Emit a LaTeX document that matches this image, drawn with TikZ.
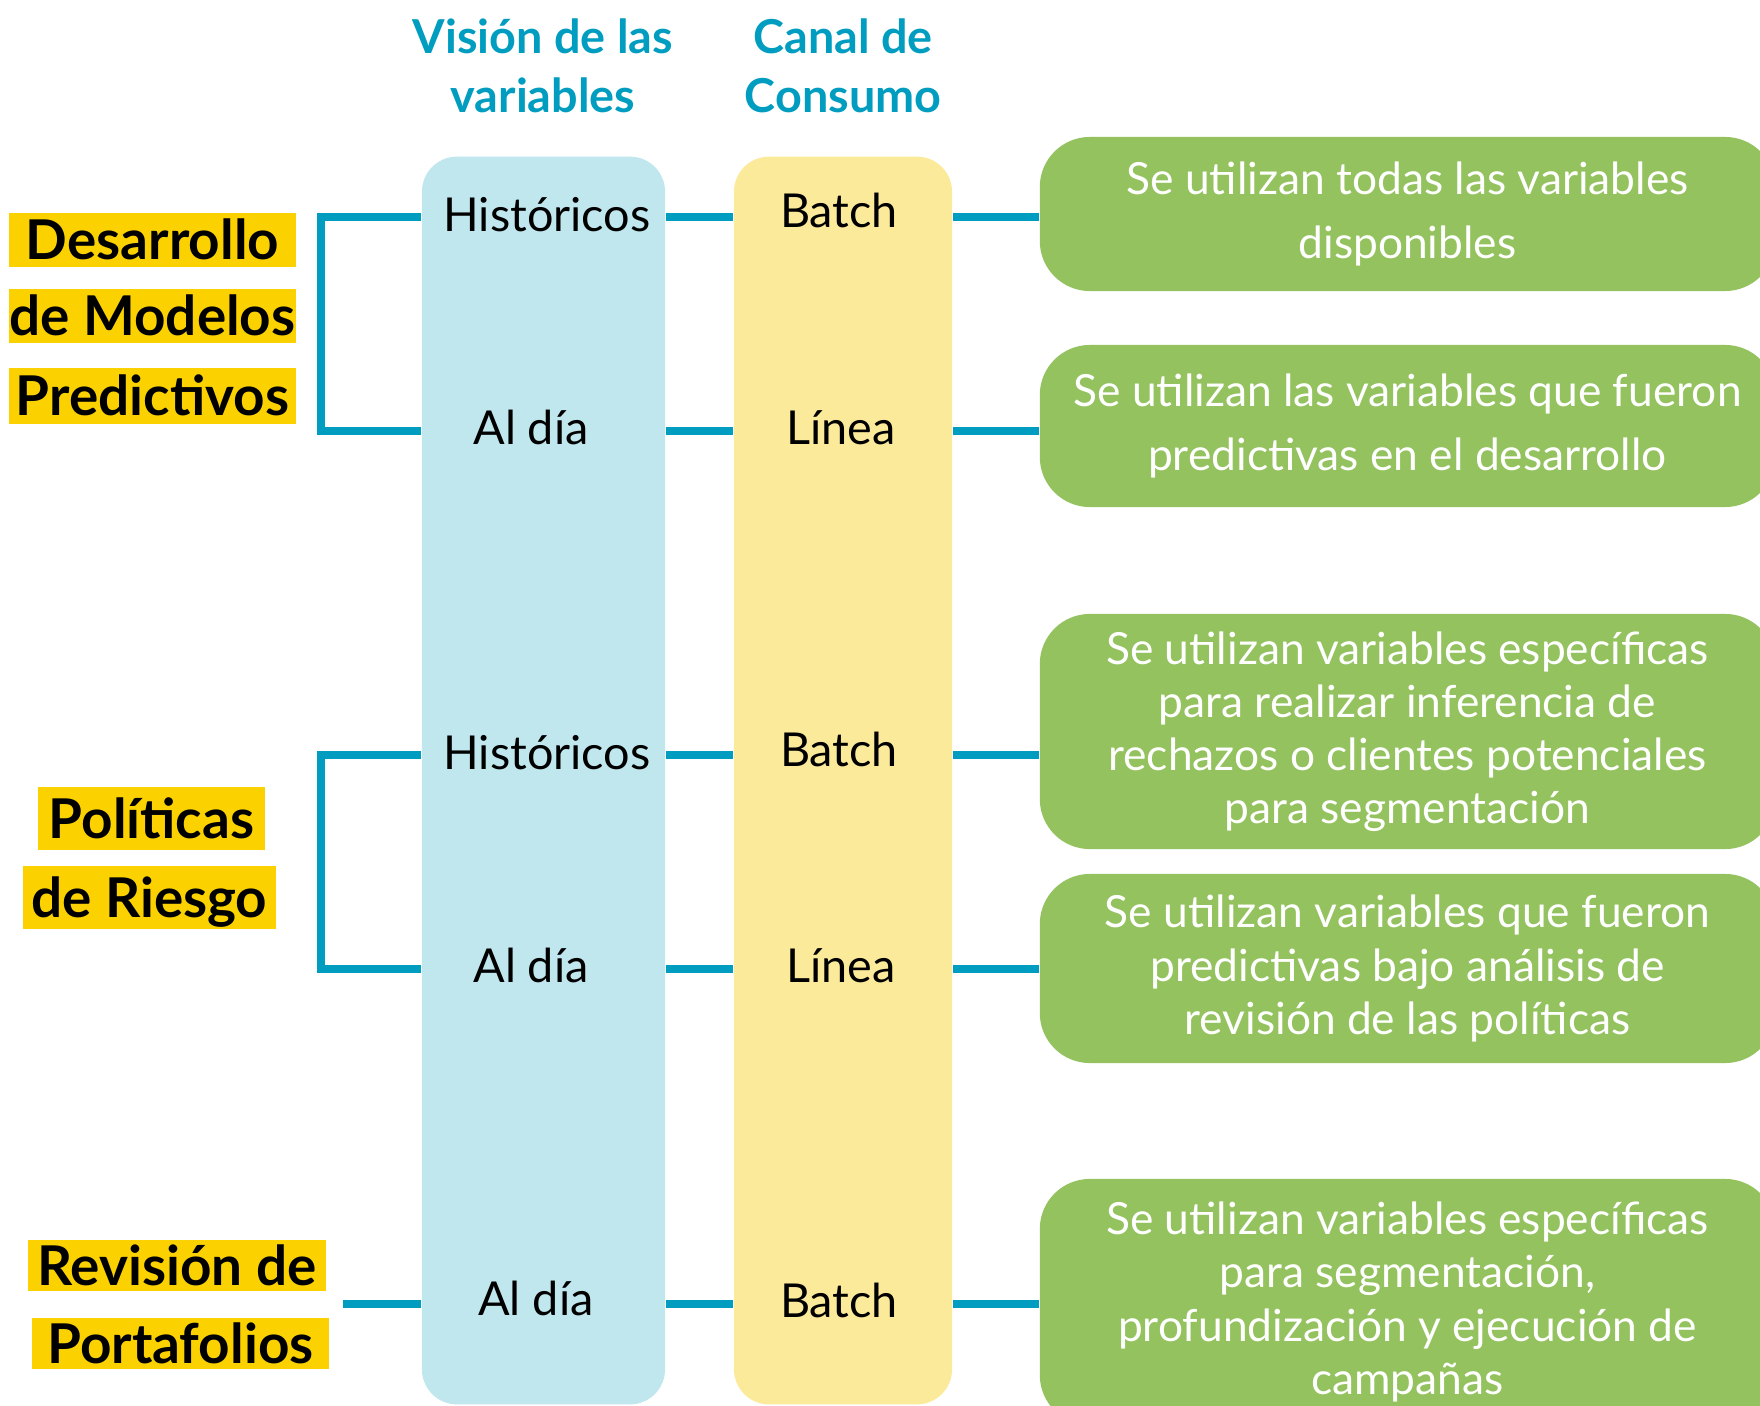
\documentclass[tikz,border=0pt]{standalone}
\usepackage{fontspec}
\setmainfont{Lato}
\definecolor{azul}{HTML}{009DC0}
\definecolor{celeste}{HTML}{C0E6EE}
\definecolor{crema}{HTML}{FCEA9B}
\definecolor{verde}{HTML}{93C25E}
\definecolor{resalte}{HTML}{FBD200}
\tikzset{
  conn/.style={azul, line width=2.2pt},
  col/.style={rounded corners=0.35cm, minimum height=12.47cm},
  etiq/.style={fill=resalte, inner sep=0pt, text height=11.2pt, text depth=0pt,
    font=\fontsize{15.6}{18}\selectfont\bfseries},
  fila/.style={inner sep=0pt, text height=9.5pt, text depth=0pt,
    font=\fontsize{13.3}{15}\selectfont},
  caja/.style={fill=verde, rounded corners=0.5cm, minimum width=7.35cm, text=white,
    align=center, font=\fontsize{12.6}{15.1}\selectfont},
  titulo/.style={azul, align=center, font=\fontsize{13.3}{16.5}\selectfont\bfseries}
}
\begin{document}
\begin{tikzpicture}[x=0.01cm, y=-0.01cm]
\useasboundingbox (0,0) rectangle (1760,1406);
\node[col, fill=celeste, minimum width=2.43cm] (vcol) at (543.5,780.5) {};
\node[col, fill=crema, minimum width=2.18cm] (ccol) at (843,780.5) {};
\node[titulo, anchor=base] (tv) at (543,112) {Visión de las\\variables};
\node[titulo, anchor=base] (tc) at (843,112) {Canal de\\Consumo};
\foreach \r/\y in {1/217,2/431,3/755,4/969,5/1304}
  \coordinate (r\r) at (0,\y);
\foreach \n/\x/\y/\t in {h1/547/215/Históricos, a2/531/428/Al día, h3/547/753/Históricos,
    a4/531/966/Al día, a5/536/1299/Al día}
  \node[fila] (\n) at (\x,\y) {\t};
\foreach \n/\x/\y/\t in {b1/839/211/Batch, l2/841/428/Línea, b3/839/750/Batch,
    l4/841/966/Línea, b5/839/1301/Batch}
  \node[fila] (\n) at (\x,\y) {\t};
\foreach \n/\x/\y/\w/\h/\t in {e1/152.5/240/2.87/0.54/Desarrollo, e2/152.5/316/2.87/0.54/de Modelos,
    e3/152.5/396/2.87/0.56/Predictivos, e4/151.5/818.5/2.27/0.63/Políticas,
    e5/149.5/897.5/2.53/0.63/de Riesgo, e6/177/1265.5/2.98/0.51/Revisión de,
    e7/180.5/1343.5/2.97/0.51/Portafolios}
  \node[etiq, minimum width=\w cm, minimum height=\h cm] (\n) at (\x,\y) {\t};
\node[caja, minimum height=1.54cm, font=\fontsize{12.6}{18.2}\selectfont] (g1) at (1407.5,214)
  {Se utilizan todas las variables\\disponibles};
\node[caja, minimum height=1.62cm, font=\fontsize{12.6}{18.2}\selectfont] (g2) at (1407.5,426)
  {Se utilizan las variables que fueron\\predictivas en el desarrollo};
\node[caja, minimum height=2.35cm] (g3) at (1407.5,731.5)
  {Se utilizan variables específicas\\para realizar inferencia de\\rechazos o clientes potenciales\\para segmentación};
\node[caja, minimum height=1.89cm] (g4) at (1407.5,968.5)
  {Se utilizan variables que fueron\\predictivas bajo análisis de\\revisión de las políticas};
\node[caja, minimum height=2.46cm] (g5) at (1407.5,1302)
  {Se utilizan variables específicas\\para segmentación,\\profundización y ejecución de\\campañas};
\foreach \r in {1,...,5} {
  \draw[conn] (vcol.east |- r\r) -- (ccol.west |- r\r);
  \draw[conn] (ccol.east |- r\r) -- (g\r.west |- r\r);
}
\draw[conn] (vcol.west |- r1) -- ++(-100,0) |- (vcol.west |- r2);
\draw[conn] (vcol.west |- r3) -- ++(-100,0) |- (vcol.west |- r4);
\draw[conn] (vcol.west |- r5) -- ++(-78,0);
\end{tikzpicture}
\end{document}
